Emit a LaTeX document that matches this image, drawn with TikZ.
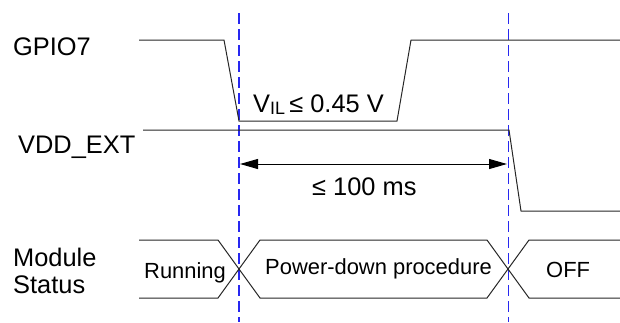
\documentclass[tikz,border=0pt]{standalone}
\usepackage{fontspec}
\setmainfont{Liberation Sans}
\usetikzlibrary{arrows.meta}
\definecolor{guide}{RGB}{40,40,240}
\tikzset{
  sig/.style={line width=1bp, draw=black!85},
  guideline/.style={line width=1.2bp, draw=guide, dash pattern=on 11bp off 5bp},
  lbl/.style={inner sep=0pt, anchor=base west, font=\fontsize{25.5}{27}\selectfont},
  stlbl/.style={inner sep=0pt, anchor=base west, font=\fontsize{22}{24}\selectfont},
  dim/.style={line width=1bp, {Triangle[length=18bp,width=10bp]}-{Triangle[length=18bp,width=10bp]}}
}
\begin{document}
\begin{tikzpicture}[x=1bp,y=-1bp]
\useasboundingbox (0,0) rectangle (620,322);
% guides
\coordinate (g1t) at (239,13); \coordinate (g1b) at (239,322);
\coordinate (g2t) at (508.5,13); \coordinate (g2b) at (508.5,322);
\draw[guideline] (g1t) -- (g1b);
\draw[guideline] (g2t) -- (g2b);
% labels
\node[lbl] (gpio) at (13,55) {GPIO7};
\node[lbl] (vdd) at (18,153) {VDD\_EXT};
\node[lbl] (mod) at (13,266) {Module};
\node[lbl] (stat) at (13,293) {Status};
% GPIO7 waveform
\draw[sig] (139,40) -- (224,40) -- (239,121) -- (397,121) -- (411,40) -- (620,40);
\node[lbl] (vil) at (253,112) {V\raisebox{-2bp}{\fontsize{18}{18}\selectfont IL}\,≤ 0.45 V};
% VDD_EXT waveform
\draw[sig] (143,130) -- (509,130) -- (521,211) -- (620,211);
% dimension arrow
\coordinate (a1) at (240,164); \coordinate (a2) at (507,164);
\draw[dim] (a1) -- (a2);
\node[lbl] (t100) at (312,195) {≤ 100 ms};
% module status
\draw[sig] (139,240) -- (218,240) -- (260,298) -- (487,298) -- (529,240) -- (620,240);
\draw[sig] (139,298) -- (218,298) -- (260,240) -- (487,240) -- (529,298) -- (620,298);
\node[stlbl] (run) at (144,278) {Running};
\node[stlbl] (pdp) at (265,274) {Power-down procedure};
\node[stlbl] (off) at (546,277) {OFF};
\end{tikzpicture}
\end{document}
